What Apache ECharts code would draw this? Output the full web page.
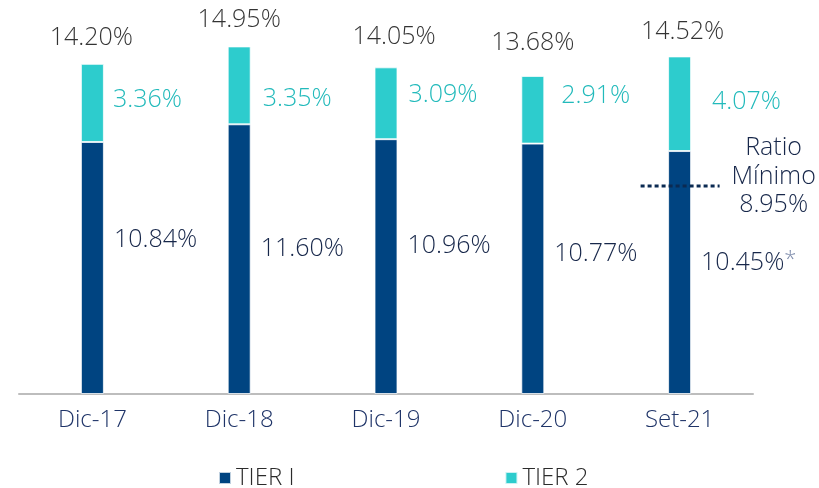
<!DOCTYPE html>
<html>
<head>
<meta charset="utf-8">
<script src="https://cdn.jsdelivr.net/npm/echarts@6/dist/echarts.min.js"></script>
<style>
  html, body { margin: 0; padding: 0; background: #fff; }
  #chart { width: 819px; height: 488px; }
</style>
</head>
<body>
<div id="chart"></div>
<script>
// Capital ratios by period
const categories = ['Dic-17', 'Dic-18', 'Dic-19', 'Dic-20', 'Set-21'];
const tier1 = [10.84, 11.60, 10.96, 10.77, 10.45];
const tier2 = [3.36, 3.35, 3.09, 2.91, 4.07];
const totals = [14.20, 14.95, 14.05, 13.68, 14.52];
const tier1Notes = ['', '', '', '', '*'];
const minRatio = 8.95;
const minRatioTitle = ['Ratio', 'Mínimo'];

// Label nudges (pixels) so the value texts sit where the layout puts them
const tier1LabelShift = [[0, -28], [0, -10], [0, -21], [0, -15], [0, -10]];
const tier2LabelShift = [[0, -3], [3, 14], [2, -8], [8, -14], [12, -2]];
const totalLabelShift = [[-1, 0], [0, -1], [8, -4], [0, -7], [3, 1]];

const FONT = '"Open Sans", Roboto, sans-serif';
const WEIGHT = 300;
const VALUE_SIZE = 25;
const COLOR_T1 = '#004481';
const COLOR_T2 = '#2dcccd';
const pct = v => v.toFixed(2) + '%';

const chart = echarts.init(document.getElementById('chart'), null, { renderer: 'canvas' });

chart.setOption({
  animation: false,
  textStyle: { fontFamily: FONT, fontWeight: WEIGHT },
  grid: { left: 19, right: 66, top: 22, bottom: 94, containLabel: false },
  legend: {
    data: ['TIER I', 'TIER 2'],
    left: 218,
    top: 466,
    padding: 0,
    icon: 'rect',
    itemWidth: 12,
    itemHeight: 12,
    itemGap: 210,
    textStyle: { fontFamily: FONT, fontWeight: WEIGHT, fontSize: 24, color: '#2b2b2b' }
  },
  xAxis: {
    type: 'category',
    data: categories,
    axisLine: { lineStyle: { color: '#bdbdbd', width: 2 } },
    axisTick: { show: false },
    axisLabel: { fontFamily: FONT, fontWeight: WEIGHT, fontSize: 24, color: '#1f3468', margin: 14 }
  },
  yAxis: {
    type: 'value',
    min: 0,
    max: 16,
    show: false,
    splitLine: { show: false }
  },
  series: [
    {
      name: 'TIER I',
      type: 'bar',
      stack: 'capital',
      barWidth: 23,
      itemStyle: { color: COLOR_T1, borderColor: 'rgba(255,255,255,0.75)', borderWidth: 1 },
      data: tier1.map((v, i) => ({
        value: v,
        label: { offset: tier1LabelShift[i] }
      })),
      label: {
        show: true,
        position: 'right',
        distance: 10,
        formatter: p => '{v|' + pct(p.value) + '}' +
          (tier1Notes[p.dataIndex] ? '{n|' + tier1Notes[p.dataIndex] + '}' : ''),
        rich: {
          v: { fontFamily: FONT, fontWeight: WEIGHT, fontSize: VALUE_SIZE, color: '#17274a' },
          n: { fontFamily: FONT, fontWeight: WEIGHT, fontSize: 22, color: '#7d8bab', verticalAlign: 'top', padding: [0, 0, 6, 0] }
        }
      }
    },
    {
      name: 'TIER 2',
      type: 'bar',
      stack: 'capital',
      barWidth: 23,
      itemStyle: { color: COLOR_T2, borderColor: 'rgba(255,255,255,0.75)', borderWidth: 1 },
      data: tier2.map((v, i) => ({
        value: v,
        label: { offset: tier2LabelShift[i] }
      })),
      label: {
        show: true,
        position: 'right',
        distance: 9,
        fontFamily: FONT,
        fontWeight: WEIGHT,
        fontSize: VALUE_SIZE,
        color: '#22babb',
        formatter: p => pct(p.value)
      }
    },
    {
      name: 'Total',
      type: 'scatter',
      symbolSize: 1,
      itemStyle: { color: 'rgba(0,0,0,0)' },
      z: 5,
      data: totals.map((v, i) => ({
        value: v,
        label: { offset: totalLabelShift[i] }
      })),
      label: {
        show: true,
        position: 'top',
        distance: 13,
        fontFamily: FONT,
        fontWeight: WEIGHT,
        fontSize: VALUE_SIZE,
        color: '#000000',
        formatter: p => pct(p.value)
      }
    }
  ]
});

// Minimum-ratio marker beside the latest bar
function drawMinRatio() {
  const last = categories[categories.length - 1];
  const cx = chart.convertToPixel({ xAxisIndex: 0 }, last);
  const ly = chart.convertToPixel({ yAxisIndex: 0 }, minRatio);
  const textX = cx + 94;
  const rowH = 28.5;
  const firstRow = ly - 38;
  const rows = minRatioTitle.concat([pct(minRatio)]);
  chart.setOption({
    graphic: [
      {
        type: 'line',
        z: 10,
        shape: { x1: cx - 39, y1: ly, x2: cx + 40, y2: ly },
        style: { stroke: '#0b2a52', lineWidth: 3, lineDash: [4, 3] }
      }
    ].concat(rows.map((t, i) => ({
      type: 'text',
      z: 10,
      x: textX,
      y: firstRow + i * rowH,
      style: {
        text: t,
        fontFamily: FONT,
        fontWeight: WEIGHT,
        fontSize: VALUE_SIZE,
        fill: '#17274a',
        align: 'center',
        verticalAlign: 'middle'
      }
    })))
  });
}
drawMinRatio();
</script>
</body>
</html>
